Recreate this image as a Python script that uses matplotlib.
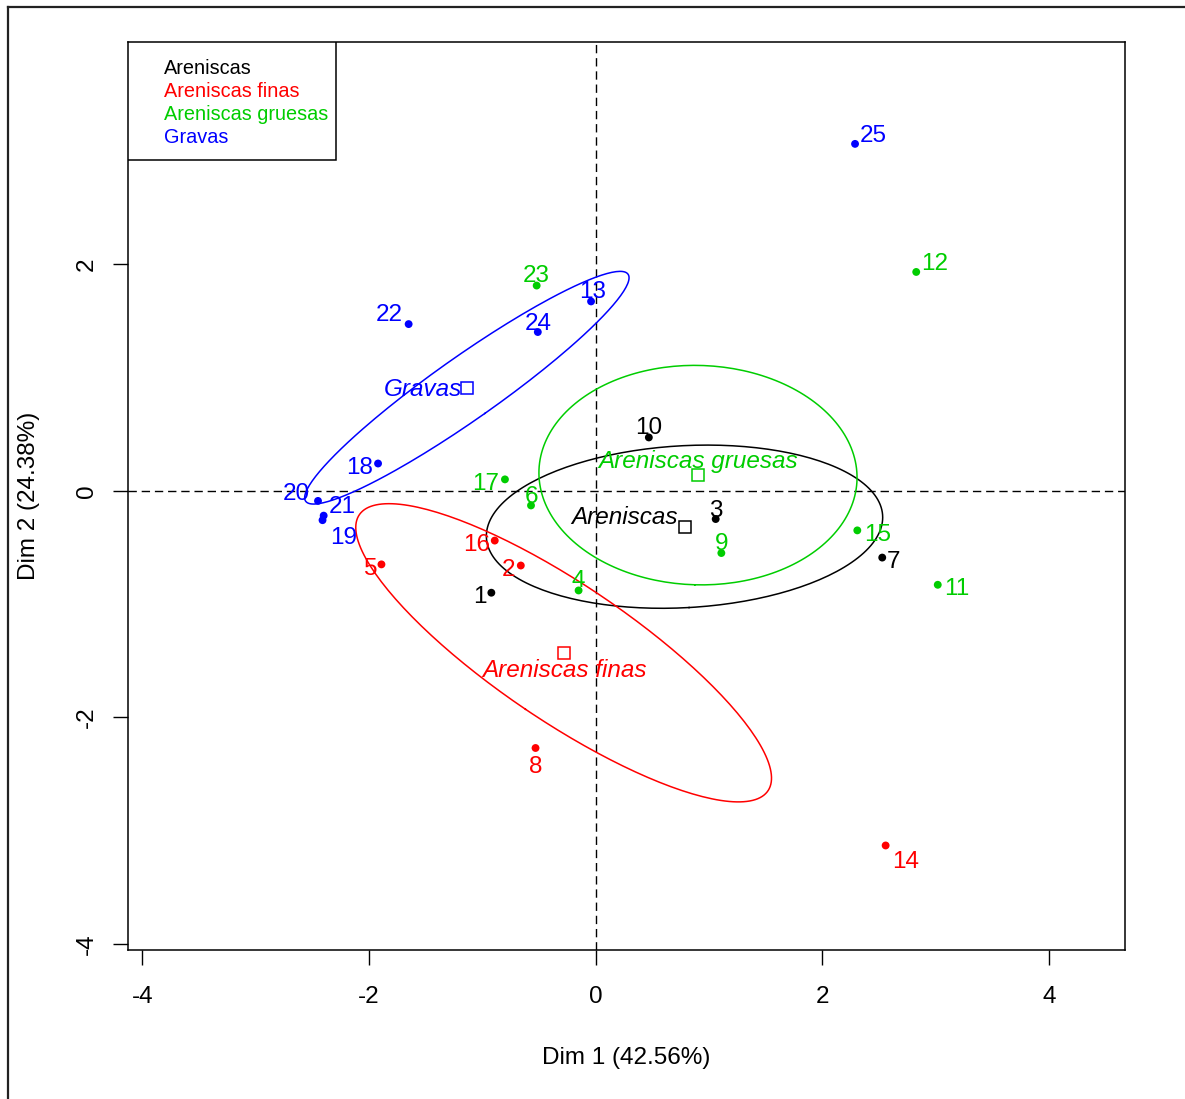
import numpy as np
import matplotlib
matplotlib.use('Agg')
import matplotlib.pyplot as plt
from matplotlib.lines import Line2D
from matplotlib.patches import Rectangle

plt.rcParams['font.family'] = ['Liberation Sans', 'DejaVu Sans']
plt.rcParams['axes.unicode_minus'] = False

# individual coordinates on the first two PCA dimensions
labels = [str(i) for i in range(1, 26)]
dim1 = [-0.92, -0.66, 1.06, -0.15, -1.89, -0.57, 2.53, -0.53, 1.11, 0.47,
        3.02, 2.83, -0.04, 2.56, 2.31, -0.89, -0.80, -1.92, -2.41, -2.45,
        -2.40, -1.65, -0.52, -0.51, 2.29]
dim2 = [-0.90, -0.66, -0.25, -0.88, -0.65, -0.13, -0.59, -2.27, -0.55, 0.47,
        -0.83, 1.93, 1.67, -3.13, -0.35, -0.44, 0.10, 0.24, -0.26, -0.09,
        -0.22, 1.47, 1.81, 1.40, 3.06]
groups = ['Areniscas', 'Areniscas finas', 'Areniscas', 'Areniscas gruesas',
          'Areniscas finas', 'Areniscas gruesas', 'Areniscas', 'Areniscas finas',
          'Areniscas gruesas', 'Areniscas', 'Areniscas gruesas', 'Areniscas gruesas',
          'Gravas', 'Areniscas finas', 'Areniscas gruesas', 'Areniscas finas',
          'Areniscas gruesas', 'Gravas', 'Gravas', 'Gravas', 'Gravas', 'Gravas',
          'Areniscas gruesas', 'Gravas', 'Gravas']

group_names = ['Areniscas', 'Areniscas finas', 'Areniscas gruesas', 'Gravas']
group_colors = ['#000000', '#FF0000', '#00CD00', '#0000FF']

xlabel = 'Dim 1 (42.56%)'
ylabel = 'Dim 2 (24.38%)'

# label placement around each point, in pixels (dx right, dy down, text centre)
label_shift = {
    '1': (-11, 2), '2': (-12, 2), '3': (0, -11), '4': (0, -12), '5': (-11, 2),
    '6': (0, -11), '7': (11, 2), '8': (0, 16), '9': (0, -12), '10': (0, -12),
    '11': (19, 2), '12': (18, -11), '13': (2, -12), '14': (20, 14), '15': (20, 2),
    '16': (-18, 2), '17': (-19, 2), '18': (-18, 2), '19': (21, 15), '20': (-22, -10),
    '21': (19, -11), '22': (-19, -12), '23': (0, -12), '24': (0, -11), '25': (18, -11),
}
# group label placement relative to the barycentre square: (ha, dx, baseline dy)
group_shift = {
    'Areniscas': ('right', -7, -3),
    'Areniscas finas': ('center', 1, 24),
    'Areniscas gruesas': ('center', 0, -7),
    'Gravas': ('right', -5, 8),
}

FS = 17.5      # main text size
LEG_FS = 14.3  # legend text size
PX = 72 / 100  # pixels -> points


def conf_ellipse(x, y, level=0.95, npoints=200):
    """Confidence ellipse around the barycentre of a group."""
    pts = np.column_stack([x, y])
    centre = pts.mean(axis=0)
    cov = np.cov(pts, rowvar=False) / len(pts)
    t = np.sqrt(-2 * np.log(1 - level))
    vals, vecs = np.linalg.eigh(cov)
    theta = np.linspace(0, 2 * np.pi, npoints)
    circle = np.vstack([np.cos(theta), np.sin(theta)])
    ring = vecs @ (np.sqrt(vals)[:, None] * circle) * t
    return centre, centre[0] + ring[0], centre[1] + ring[1]


fig = plt.figure(figsize=(11.85, 10.99), dpi=100)
ax = fig.add_axes([0.1083, 0.1356, 0.8411, 0.8262])

ax.axhline(0, color='black', lw=1.0, ls=(0, (6, 3.5)), zorder=1)
ax.axvline(0, color='black', lw=1.0, ls=(0, (6, 3.5)), zorder=1)

x_arr = np.array(dim1)
y_arr = np.array(dim2)
g_arr = np.array(groups)

for name, col in zip(group_names, group_colors):
    mask = g_arr == name
    ax.scatter(x_arr[mask], y_arr[mask], s=32, color=col, edgecolors='none', zorder=3)
    centre, ex, ey = conf_ellipse(x_arr[mask], y_arr[mask])
    ax.plot(ex, ey, color=col, lw=1.1, zorder=2)
    ax.plot(centre[0], centre[1], marker='s', ms=8, mfc='none', mec=col,
            mew=1.1, linestyle='none', zorder=3)
    ha, dx, dy = group_shift[name]
    ax.annotate(name, (centre[0], centre[1]), xytext=(dx * PX, -dy * PX),
                textcoords='offset points', ha=ha, va='baseline',
                color=col, fontsize=FS, style='italic', zorder=4)

for lab, xv, yv, g in zip(labels, dim1, dim2, groups):
    col = group_colors[group_names.index(g)]
    dx, dy = label_shift[lab]
    ax.annotate(lab, (xv, yv), xytext=(dx * PX, -(dy + 8.7) * PX),
                textcoords='offset points', ha='center', va='baseline',
                color=col, fontsize=FS, zorder=4)

ax.set_xlim(-4.124, 4.673)
ax.set_ylim(-4.052, 3.959)
ax.set_xticks([-4, -2, 0, 2, 4])
ax.set_yticks([-4, -2, 0, 2])

for sp in ax.spines.values():
    sp.set_linewidth(1.1)

ax.tick_params(axis='both', direction='out', length=10.8, width=1.0,
               labelsize=FS, color='black')
ax.tick_params(axis='x', pad=15)
ax.tick_params(axis='y', pad=11)
for t in ax.get_yticklabels():
    t.set_rotation(90)
    t.set_va('center')
    t.set_ha('right')

ax.set_xlabel(xlabel, fontsize=FS)
ax.set_ylabel(ylabel, fontsize=FS)
ax.xaxis.set_label_coords(0.5, -0.107)
ax.yaxis.set_label_coords(-0.0886, 0.5)

# legend box in the top-left corner: coloured group names, no symbols
box_w, box_h = 208 / 997, 118 / 908
ax.add_patch(Rectangle((0, 1 - box_h), box_w, box_h, transform=ax.transAxes,
                       fill=True, facecolor='white', edgecolor='black',
                       lw=1.1, zorder=5))
for i, (name, col) in enumerate(zip(group_names, group_colors)):
    ax.text(36 / 997, 1 - (32 + 23 * i) / 908, name, transform=ax.transAxes,
            ha='left', va='baseline', color=col, fontsize=LEG_FS, zorder=6)

# outer frame, cut off on the right and bottom
fx = 7.5 / 1185
fy = 1 - 7 / 1099
fig.add_artist(Line2D([fx, fx], [0, fy], color='#222222', lw=1.6,
                      transform=fig.transFigure))
fig.add_artist(Line2D([fx, 1], [fy, fy], color='#222222', lw=1.6,
                      transform=fig.transFigure))

fig.savefig('out.png', dpi=100)
